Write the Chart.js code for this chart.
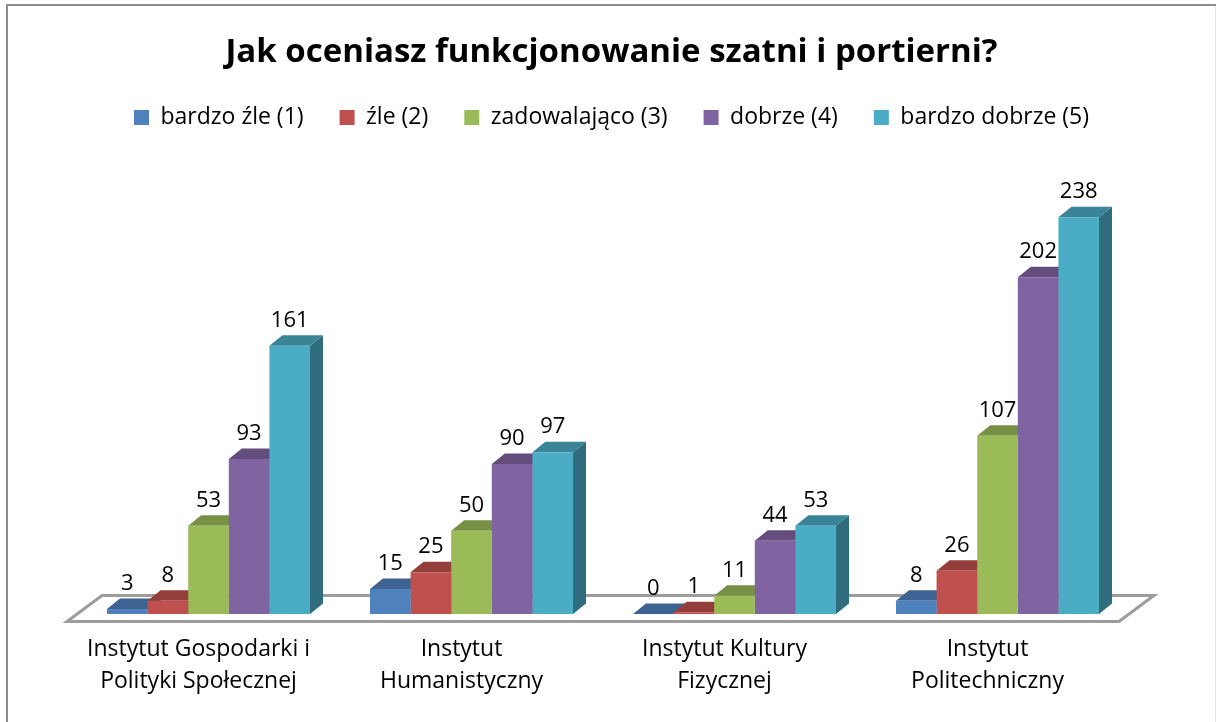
<!DOCTYPE html>
<html>
<head>
<meta charset="utf-8">
<style>
  html, body { margin: 0; padding: 0; background: #ffffff; }
  #wrap { width: 1216px; height: 722px; position: relative; }
</style>
<script src="https://cdn.jsdelivr.net/npm/chart.js@4.4.1/dist/chart.umd.min.js"></script>
</head>
<body>
<div id="wrap"><canvas id="chart" width="1216" height="722"></canvas></div>
<script>
// Institutes (two-line axis labels)
const categories = [
  ['Instytut Gospodarki i', 'Polityki Społecznej'],
  ['Instytut', 'Humanistyczny'],
  ['Instytut Kultury', 'Fizycznej'],
  ['Instytut', 'Politechniczny']
];
const seriesNames = ['bardzo źle (1)', 'źle (2)', 'zadowalająco (3)', 'dobrze (4)', 'bardzo dobrze (5)'];

// Number of answers per rating
const bardzoZle    = [3, 15, 0, 8];
const zle          = [8, 25, 1, 26];
const zadowalajaco = [53, 50, 11, 107];
const dobrze       = [93, 90, 44, 202];
const bardzoDobrze = [161, 97, 53, 238];

const seriesValues = [bardzoZle, zle, zadowalajaco, dobrze, bardzoDobrze];
const seriesColors = ['#4F81BD', '#C0504D', '#9BBB59', '#8064A2', '#4BACC6'];

const FONT = '"Open Sans", Lato, sans-serif';
const DEPTH_X = 13, DEPTH_Y = 10.5;

function shade(hex, f) {
  const n = parseInt(hex.slice(1), 16);
  const r = Math.round(((n >> 16) & 255) * f);
  const g = Math.round(((n >> 8) & 255) * f);
  const b = Math.round((n & 255) * f);
  return `rgb(${r},${g},${b})`;
}

// Frame, floor and the depth faces of each column
const columns3d = {
  id: 'columns3d',
  beforeDraw(chart) {
    const ctx = chart.ctx;
    ctx.save();
    ctx.fillStyle = '#ffffff';
    ctx.fillRect(0, 0, chart.width, chart.height);
    ctx.strokeStyle = '#8c8c8c';
    ctx.lineWidth = 2;
    ctx.beginPath();
    ctx.moveTo(7, chart.height + 5);
    ctx.lineTo(7, 5);
    ctx.lineTo(chart.width + 5, 5);
    ctx.stroke();
    ctx.strokeStyle = '#e4e4e4';
    ctx.lineWidth = 1;
    ctx.beginPath();
    ctx.moveTo(1215.5, 6);
    ctx.lineTo(1215.5, chart.height);
    ctx.stroke();
    ctx.restore();
  },
  beforeDatasetsDraw(chart) {
    const ctx = chart.ctx;
    const area = chart.chartArea;
    const base = chart.scales.y.getPixelForValue(0);
    ctx.save();
    // floor
    ctx.beginPath();
    ctx.moveTo(area.left - 10, base + 7.5);
    ctx.lineTo(area.right - 10, base + 7.5);
    ctx.lineTo(area.right + 25, base - 18.5);
    ctx.lineTo(area.left + 25, base - 18.5);
    ctx.closePath();
    ctx.fillStyle = '#ffffff';
    ctx.fill();
    ctx.strokeStyle = '#9c9c9c';
    ctx.lineWidth = 3;
    ctx.lineJoin = 'miter';
    ctx.stroke();
    // side and top faces, left to right
    const n = chart.data.labels.length;
    for (let j = 0; j < n; j++) {
      chart.data.datasets.forEach((ds, i) => {
        const el = chart.getDatasetMeta(i).data[j];
        const p = el.getProps(['x', 'y', 'base', 'width'], true);
        const l = p.x - p.width / 2, r = p.x + p.width / 2;
        const top = p.y, bot = p.base;
        if (bot - top > 0) {
          ctx.beginPath();
          ctx.moveTo(r, top);
          ctx.lineTo(r + DEPTH_X, top - DEPTH_Y);
          ctx.lineTo(r + DEPTH_X, bot - DEPTH_Y);
          ctx.lineTo(r, bot);
          ctx.closePath();
          ctx.fillStyle = shade(ds.backgroundColor, 0.63);
          ctx.fill();
        }
        ctx.beginPath();
        ctx.moveTo(l, top);
        ctx.lineTo(r, top);
        ctx.lineTo(r + DEPTH_X, top - DEPTH_Y);
        ctx.lineTo(l + DEPTH_X, top - DEPTH_Y);
        ctx.closePath();
        ctx.fillStyle = shade(ds.backgroundColor, 0.77);
        ctx.fill();
      });
    }
    ctx.restore();
  },
  afterDatasetsDraw(chart) {
    // value labels above each column
    const ctx = chart.ctx;
    ctx.save();
    ctx.font = `22px ${FONT}`;
    ctx.fillStyle = '#000000';
    ctx.textAlign = 'center';
    ctx.textBaseline = 'alphabetic';
    chart.data.datasets.forEach((ds, i) => {
      chart.getDatasetMeta(i).data.forEach((el, j) => {
        const p = el.getProps(['x', 'y'], true);
        ctx.fillText(String(ds.data[j]), p.x, p.y - 19);
      });
    });
    ctx.restore();
  }
};

new Chart(document.getElementById('chart'), {
  type: 'bar',
  data: {
    labels: categories,
    datasets: seriesNames.map((name, i) => ({
      label: name,
      data: seriesValues[i],
      backgroundColor: seriesColors[i],
      borderWidth: 0,
      barPercentage: 1,
      categoryPercentage: 0.772
    }))
  },
  options: {
    responsive: false,
    animation: false,
    devicePixelRatio: 1,
    layout: { padding: { left: 77, right: 70, top: 0, bottom: 0 } },
    plugins: {
      title: {
        display: true,
        text: 'Jak oceniasz funkcjonowanie szatni i portierni?',
        color: '#000000',
        font: { family: FONT, size: 33, weight: 'bold', lineHeight: 0.94 },
        padding: { top: 37, bottom: 2 }
      },
      legend: {
        display: true,
        position: 'top',
        labels: {
          color: '#000000',
          font: { family: FONT, size: 23 },
          boxWidth: 15,
          boxHeight: 15,
          padding: 36
        }
      },
      tooltip: { enabled: false }
    },
    scales: {
      x: {
        grid: { display: false, drawTicks: false },
        border: { display: false },
        ticks: {
          color: '#000000',
          font: { family: FONT, size: 23, lineHeight: 1.413 },
          padding: 18.75,
          labelOffset: -10,
          maxRotation: 0,
          autoSkip: false
        },
        afterFit(scale) { scale.height = 108; }
      },
      y: {
        position: 'right',
        min: 0,
        max: 285,
        grid: { display: false, drawTicks: false },
        border: { display: false },
        ticks: { display: false },
        afterFit(scale) { scale.width = 17; }
      }
    }
  },
  plugins: [columns3d]
});
</script>
</body>
</html>
